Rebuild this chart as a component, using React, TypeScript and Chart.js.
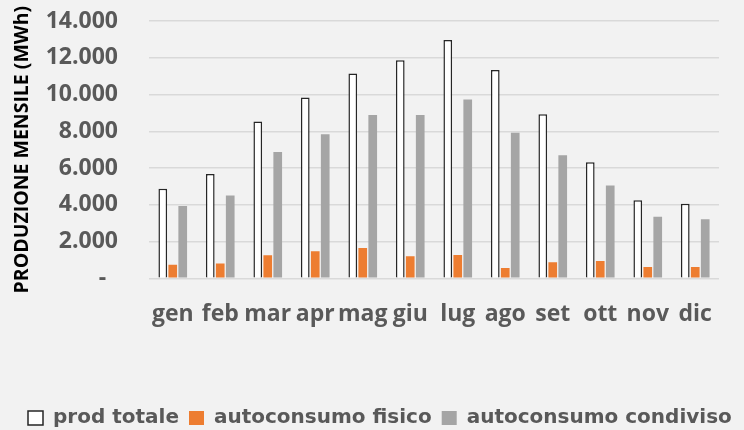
import React, { useEffect, useRef } from "react";
import { Chart, registerables } from "chart.js";

Chart.register(...registerables);

const months = ["gen", "feb", "mar", "apr", "mag", "giu", "lug", "ago", "set", "ott", "nov", "dic"];
const prodTotale = [4870, 5670, 8530, 9840, 11140, 11870, 12970, 11340, 8930, 6320, 4240, 4060];
const autoconsumoFisico = [740, 810, 1250, 1470, 1650, 1200, 1270, 560, 870, 940, 620, 620];
const autoconsumoCondiviso = [3930, 4510, 6870, 7840, 8880, 8880, 9730, 7920, 6690, 5050, 3350, 3210];
const yTicks = [0, 2000, 4000, 6000, 8000, 10000, 12000, 14000];

const fmt = (v: number) =>
  v === 0 ? "-  " : String(v).replace(/\B(?=(\d{3})+(?!\d))/g, ".");

export default function App() {
  const ref = useRef<HTMLCanvasElement | null>(null);

  useEffect(() => {
    document.body.style.margin = "0";
    document.body.style.background = "#f2f2f2";
    const canvas = ref.current;
    if (!canvas) return;
    const tickFont = { family: "'Open Sans'", size: 23, weight: "bold" as const };
    const chart = new Chart(canvas, {
      type: "bar",
      data: {
        labels: months,
        datasets: [
          {
            label: "prod totale",
            data: prodTotale,
            backgroundColor: "#ffffff",
            borderColor: "#262626",
            borderWidth: 1.5,
            barPercentage: 0.87,
            categoryPercentage: 0.63,
          },
          {
            label: "autoconsumo fisico",
            data: autoconsumoFisico,
            backgroundColor: "#ed7d31",
            borderWidth: 0,
            barPercentage: 0.87,
            categoryPercentage: 0.63,
          },
          {
            label: "autoconsumo condiviso",
            data: autoconsumoCondiviso,
            backgroundColor: "#a5a5a5",
            borderWidth: 0,
            barPercentage: 0.87,
            categoryPercentage: 0.63,
          },
        ],
      },
      options: {
        responsive: false,
        animation: false,
        layout: { padding: { top: 21, right: -8, left: 18, bottom: -8 } },
        plugins: {
          tooltip: { enabled: false },
          legend: {
            position: "bottom",
            align: "start",
            labels: {
              boxWidth: 15,
              boxHeight: 14,
              padding: 10,
              color: "#595959",
              font: { family: "'DejaVu Sans'", size: 20, weight: "bold" },
            },
          },
        },
        scales: {
          x: {
            grid: { display: false, drawTicks: false },
            border: { display: false },
            ticks: { color: "#595959", font: tickFont, padding: 22, maxRotation: 0, autoSkip: false },
            afterFit: (s: any) => {
              s.height = 119.7;
            },
          },
          y: {
            min: 0,
            max: 14000,
            afterBuildTicks: (s: any) => {
              s.ticks = yTicks.map((v) => ({ value: v }));
            },
            grid: { color: "#d9d9d9", lineWidth: 1.5, drawTicks: false },
            border: { display: false },
            ticks: {
              color: "#595959",
              font: tickFont,
              padding: 31,
              callback: (v: any) => fmt(Number(v)),
            },
            title: {
              display: true,
              text: "PRODUZIONE MENSILE (MWh)",
              color: "#000000",
              font: { family: "'Open Sans'", size: 19.5, weight: "bold" },
              padding: { top: 11 - 18, bottom: 0 },
            },
            afterFit: (s: any) => {
              s.width = 149 - 18;
              s.paddingTop = 0;
              s.paddingBottom = 0;
            },
          },
          yRight: {
            position: "right",
            display: true,
            grid: { display: false, drawTicks: false },
            border: { display: false },
            ticks: { display: false },
            afterFit: (s: any) => {
              s.width = 33;
              s.paddingTop = 0;
              s.paddingBottom = 0;
            },
          },
        },
      },
    });
    return () => chart.destroy();
  }, []);

  return (
    <div style={{ width: 744, height: 430, background: "#f2f2f2" }}>
      <canvas ref={ref} width={744} height={430} />
    </div>
  );
}
